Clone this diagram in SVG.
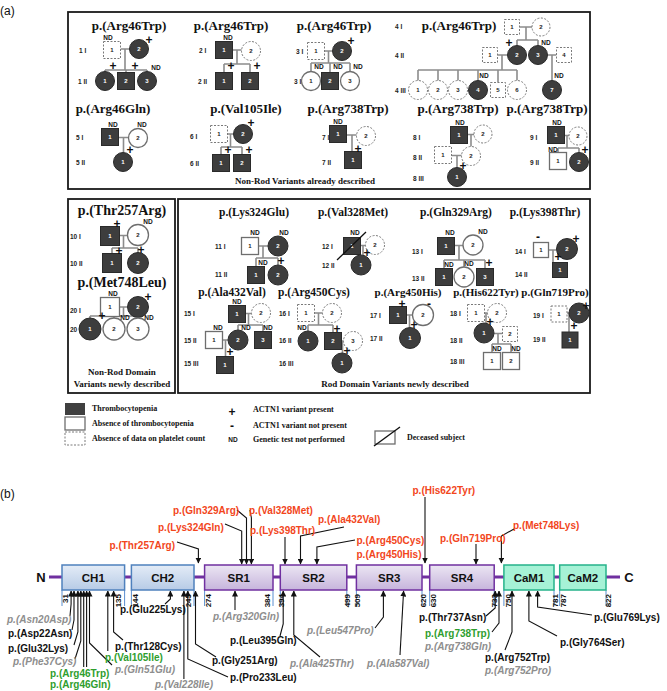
<svg xmlns="http://www.w3.org/2000/svg" width="667" height="691" viewBox="0 0 667 691">
<style>
.bx{fill:none;stroke:#1a1a1a;stroke-width:1.8}
.f{fill:#3d3d3d;stroke:#2a2a2a;stroke-width:1}
.e{fill:#fff;stroke:#6e6e6e;stroke-width:1.3}
.d{fill:#fff;stroke:#7a7a7a;stroke-width:1;stroke-dasharray:2 1.5}
.pl{fill:none;stroke:#8c8c8c;stroke-width:1.6}
.nw{font-family:'Liberation Sans',Arial,sans-serif;font-size:6px;font-weight:bold;fill:#fff;text-anchor:middle}
.nb{font-family:'Liberation Sans',Arial,sans-serif;font-size:6px;font-weight:bold;fill:#222;text-anchor:middle}
.gl{font-family:'Liberation Sans',Arial,sans-serif;font-size:6.5px;font-weight:bold;fill:#222}
.nd{font-family:'Liberation Sans',Arial,sans-serif;font-size:6.5px;font-weight:bold;fill:#111;text-anchor:middle}
.pm{font-family:'Liberation Sans',Arial,sans-serif;font-size:12px;font-weight:bold;fill:#111;text-anchor:middle}
.t1{font-family:'Liberation Serif','Times New Roman',serif;font-size:13px;font-weight:bold;fill:#111;text-anchor:middle}
.t2{font-family:'Liberation Serif','Times New Roman',serif;font-size:11.5px;font-weight:bold;fill:#111;text-anchor:middle}
.cap{font-family:'Liberation Serif','Times New Roman',serif;font-size:9px;font-weight:bold;fill:#111;text-anchor:middle}
.lg{font-family:'Liberation Serif','Times New Roman',serif;font-size:8px;font-weight:bold;fill:#111}
.pn{font-family:'Liberation Sans',Arial,sans-serif;font-size:12px;fill:#111}
.bl{font-family:'Liberation Sans',Arial,sans-serif;font-size:11.5px;font-weight:bold;fill:#111;text-anchor:middle}
.lb{font-family:'Liberation Sans',Arial,sans-serif;font-size:10px;font-weight:bold}
.r{fill:#f2461c}.k{fill:#111}.g{fill:#2e9e2e}.y{fill:#8e8e8e;font-style:italic}
.num{font-family:'Liberation Sans',Arial,sans-serif;font-size:8px;font-weight:bold;fill:#111;text-anchor:end}
.ar{fill:none;stroke:#111;stroke-width:1.1;marker-end:url(#ah)}
.tk{stroke:#5b8fd0;stroke-width:1}
.ch{fill:url(#gch);stroke:#4f81bd;stroke-width:1.5}
.sr{fill:url(#gsr);stroke:#7030a0;stroke-width:1.5}
.cm{fill:#a6f2d6;stroke:#26b38a;stroke-width:1.5}
</style>
<defs>
<marker id="ah" markerWidth="6" markerHeight="6" refX="5.5" refY="3" orient="auto" markerUnits="userSpaceOnUse"><path d="M0,0 L6,3 L0,6 z" fill="#111"/></marker>
<linearGradient id="gch" x1="0" y1="0" x2="0" y2="1"><stop offset="0" stop-color="#e4ecf7"/><stop offset="1" stop-color="#b7cbe6"/></linearGradient>
<linearGradient id="gsr" x1="0" y1="0" x2="0" y2="1"><stop offset="0" stop-color="#ece6f3"/><stop offset="1" stop-color="#c6b4dc"/></linearGradient>
</defs>
<rect width="667" height="691" fill="#fff"/>

<text class="pn" x="0" y="15">(a)</text>
<g id="frames">
<rect class="bx" x="68" y="12" width="522" height="177"/>
<rect class="bx" x="68" y="199" width="107" height="194"/>
<rect class="bx" x="178" y="199" width="412" height="194"/>
<text class="cap" x="305" y="184">Non-Rod Variants already described</text>
<text class="cap" x="122" y="375">Non-Rod Domain</text>
<text class="cap" x="122" y="387">Variants newly described</text>
<text class="cap" x="395" y="387">Rod Domain Variants newly described</text>
</g>

<g id="pedigree-lines">
<path class="pl" d="M120.5 49H129.5M125 49V70M105 70H147M105 70V71.5M126 70V72.5M147 70V71.5"/>
<path class="pl" d="M232.5 50H241.5M237 50V64M224 64H250M224 64V72.5M250 64V72.5"/>
<path class="pl" d="M324.5 51H332.5M328.5 51V63M311 63H350M311 63V71.5M330 63V72.5M350 63V71.5"/>
<path class="pl" d="M519.5 27H532M526 27V40M517 40H538M517 40V45.5M538 40V45.5M497.5 55H507.5M502 55V70M418 70H517M418 70V80.5M438 70V80.5M458 70V80.5M478 70V80.5M498 70V82.5M517 70V80.5M547.5 55H556.5M552 55V80.5"/>
<path class="pl" d="M118.5 137.5H128.5M123.5 137.5V152.5"/>
<path class="pl" d="M227.5 134H233.5M230.5 134V147M221 147H242M221 147V154.5M242 147V154.5"/>
<path class="pl" d="M346.5 135H356.5M352 135V151.5"/>
<path class="pl" d="M467.5 134.5H474M471 134.5V146.5M451.5 155.5H461.5M457 155.5V167.5"/>
<path class="pl" d="M564.5 135.5H570M567 135.5V148M558 148H579M558 148V152.5M579 148V152.5"/>
<path class="pl" d="M119.5 235.5H127.5M123.5 235.5V248M112 248H138M112 248V253.5M138 248V252.5"/>
<path class="pl" d="M119.5 307H127.5M123.5 307V316M90 316H138M90 316V318M114 316V318M138 316V318"/>
<path class="pl" d="M258.5 246H268M263 246V258M256 258H278M256 258V266.5M278 258V265"/>
<path class="pl" d="M360.5 245.5H365.5M363 245.5V255"/>
<path class="pl" d="M454.5 245.5H463M459 245.5V260M444 260H485M444 260V268.5M464 260V267M485 260V268.5"/>
<path class="pl" d="M548.5 250H556.5M553 250V262.5"/>
<path class="pl" d="M245.5 313.5H251.5M248.5 313.5V325M238 325H263M238 325V330M263 325V331.5M222.5 340H228M225.5 340V356.5"/>
<path class="pl" d="M314.5 313H322.5M318.5 313V325M308 325H333M308 325V331M333 325V332.5M341.5 341H343.5M342.5 341V353"/>
<path class="pl" d="M406.5 315H412.5M409.5 315V327.5"/>
<path class="pl" d="M484.5 313H487.5M486 313V323M494 333.5H502.5M498 333.5V344M492 344H511M492 344V352.5M511 344V352.5"/>
<path class="pl" d="M567 313H570M569 313V332"/>
</g>

<g id="ped1">
<text class="t1" x="129" y="30">p.(Arg46Trp)</text>
<text class="gl" x="79" y="53">1 I</text><text class="gl" x="78" y="84">1 II</text>
<rect class="d" x="103.5" y="41.5" width="17" height="17"/><text class="nb" x="112" y="52">1</text><text class="nd" x="108" y="40">ND</text>
<circle class="f" cx="139" cy="49" r="9.5"/><text class="nw" x="139" y="51">2</text><text class="pm" x="149" y="44">+</text>
<circle class="f" cx="105" cy="81" r="9.5"/><text class="nw" x="105" y="83">1</text><text class="pm" x="113" y="70">+</text>
<rect class="f" x="117.5" y="72.5" width="17" height="17"/><text class="nw" x="126" y="83">2</text><text class="pm" x="135" y="70">+</text>
<circle class="f" cx="147" cy="81" r="9.5"/><text class="nw" x="147" y="83">3</text><text class="nd" x="156" y="70">ND</text>
</g>
<g id="ped2">
<text class="t1" x="231" y="30">p.(Arg46Trp)</text>
<text class="gl" x="199" y="53">2 I</text><text class="gl" x="198" y="84">2 II</text>
<rect class="f" x="215.5" y="41.5" width="17" height="17"/><text class="nw" x="224" y="52">1</text><text class="nd" x="228" y="40">ND</text>
<circle class="d" cx="251" cy="51" r="9.5"/><text class="nb" x="251" y="53">2</text>
<rect class="f" x="215.5" y="72.5" width="17" height="17"/><text class="nw" x="224" y="83">1</text><text class="pm" x="231" y="70">+</text>
<rect class="f" x="241.5" y="72.5" width="17" height="17"/><text class="nw" x="250" y="83">2</text><text class="pm" x="257" y="70">+</text>
</g>
<g id="ped3">
<text class="t1" x="334" y="30">p.(Arg46Trp)</text>
<text class="gl" x="296" y="54">3 I</text><text class="gl" x="294" y="84">3 II</text>
<rect class="d" x="307.5" y="42.5" width="17" height="17"/><text class="nb" x="316" y="53">1</text>
<circle class="f" cx="342" cy="51" r="9.5"/><text class="nw" x="342" y="53">2</text><text class="pm" x="351" y="45">+</text>
<circle class="e" cx="311" cy="81" r="9.5"/><text class="nb" x="311" y="83">1</text><text class="nd" x="319" y="69">ND</text>
<rect class="f" x="321.5" y="72.5" width="17" height="17"/><text class="nw" x="330" y="83">2</text><text class="nd" x="338" y="69">ND</text>
<circle class="e" cx="350" cy="81" r="9.5"/><text class="nb" x="350" y="83">3</text><text class="nd" x="358" y="69">ND</text>
</g>
<g id="ped4">
<text class="t1" x="459" y="30">p.(Arg46Trp)</text>
<text class="gl" x="395" y="29">4 I</text><text class="gl" x="395" y="58">4 II</text><text class="gl" x="395" y="93">4 III</text>
<rect class="d" x="504.5" y="19.5" width="15" height="15"/><text class="nb" x="512" y="29">1</text>
<circle class="d" cx="541" cy="27" r="9"/><text class="nb" x="541" y="29">2</text>
<rect class="d" x="482.5" y="47.5" width="15" height="15"/><text class="nb" x="490" y="57">1</text>
<circle class="f" cx="517" cy="55" r="9.5"/><text class="nw" x="517" y="57">2</text><text class="pm" x="509" y="47">+</text>
<circle class="f" cx="538" cy="55" r="9.5"/><text class="nw" x="538" y="57">3</text><text class="nd" x="546" y="45">ND</text>
<rect class="d" x="556.5" y="47.5" width="15" height="15"/><text class="nb" x="564" y="57">4</text>
<circle class="d" cx="418" cy="90" r="9.5"/><text class="nb" x="418" y="92">1</text>
<circle class="d" cx="438" cy="90" r="9.5"/><text class="nb" x="438" y="92">2</text>
<circle class="d" cx="458" cy="90" r="9.5"/><text class="nb" x="458" y="92">3</text>
<circle class="f" cx="478" cy="90" r="9.5"/><text class="nw" x="478" y="92">4</text><text class="nd" x="484" y="78">ND</text>
<rect class="d" x="490.5" y="82.5" width="15" height="15"/><text class="nb" x="498" y="92">5</text>
<circle class="d" cx="517" cy="90" r="9.5"/><text class="nb" x="517" y="92">6</text>
<circle class="f" cx="552" cy="90" r="9.5"/><text class="nw" x="552" y="92">7</text><text class="nd" x="559" y="78">ND</text>
</g>
<g id="ped5">
<text class="t1" x="113" y="113">p.(Arg46Gln)</text>
<text class="gl" x="76" y="140">5 I</text><text class="gl" x="76" y="165">5 II</text>
<rect class="f" x="101.5" y="128.5" width="17" height="17"/><text class="nw" x="110" y="139">1</text><text class="nd" x="113" y="127">ND</text>
<circle class="e" cx="138" cy="138" r="9.5"/><text class="nb" x="138" y="140">2</text><text class="nd" x="142" y="127">ND</text>
<circle class="f" cx="123" cy="162" r="9.5"/><text class="nw" x="123" y="164">1</text><text class="pm" x="130" y="154">+</text>
</g>
<g id="ped6">
<text class="t1" x="246" y="113">p.(Val105Ile)</text>
<text class="gl" x="190" y="139">6 I</text><text class="gl" x="190" y="166">6 II</text>
<rect class="d" x="210.5" y="125.5" width="17" height="17"/><text class="nb" x="219" y="136">1</text>
<circle class="f" cx="243" cy="134" r="9.5"/><text class="nw" x="243" y="136">2</text><text class="pm" x="251" y="127">+</text>
<rect class="f" x="212.5" y="154.5" width="17" height="17"/><text class="nw" x="221" y="165">1</text><text class="pm" x="228" y="154">+</text>
<rect class="f" x="233.5" y="154.5" width="17" height="17"/><text class="nw" x="242" y="165">2</text><text class="pm" x="249" y="154">+</text>
</g>
<g id="ped7">
<text class="t1" x="348" y="113">p.(Arg738Trp)</text>
<text class="gl" x="322" y="140">7 I</text><text class="gl" x="322" y="165">7 II</text>
<rect class="f" x="329.5" y="125.5" width="17" height="17"/><text class="nw" x="338" y="136">1</text><text class="nd" x="338" y="124">ND</text>
<circle class="d" cx="366" cy="136" r="9.5"/><text class="nb" x="366" y="138">2</text>
<rect class="f" x="344.5" y="151.5" width="17" height="17"/><text class="nw" x="353" y="162">1</text><text class="pm" x="358" y="153">+</text>
</g>
<g id="ped8">
<text class="t1" x="458" y="113">p.(Arg738Trp)</text>
<text class="gl" x="413" y="140">8 I</text><text class="gl" x="413" y="160">8 II</text><text class="gl" x="413" y="181">8 III</text>
<rect class="f" x="450.5" y="126.5" width="17" height="17"/><text class="nw" x="459" y="137">1</text><text class="nd" x="460" y="125">ND</text>
<circle class="d" cx="483" cy="134" r="9"/><text class="nb" x="483" y="136">2</text>
<rect class="d" x="434.5" y="146.5" width="17" height="17"/><text class="nb" x="443" y="157">1</text>
<circle class="d" cx="471" cy="156" r="9.5"/><text class="nb" x="471" y="158">2</text>
<circle class="f" cx="457" cy="177" r="9.5"/><text class="nw" x="457" y="179">1</text><text class="pm" x="463" y="170">+</text>
</g>
<g id="ped9">
<text class="t1" x="547" y="113">p.(Arg738Trp)</text>
<text class="gl" x="530" y="140">9 I</text><text class="gl" x="530" y="165">9 II</text>
<rect class="f" x="547.5" y="126.5" width="17" height="17"/><text class="nw" x="556" y="137">1</text><text class="nd" x="557" y="125">ND</text>
<circle class="d" cx="578" cy="136" r="9"/><text class="nb" x="578" y="138">2</text>
<rect class="e" x="549.5" y="152.5" width="17" height="17"/><text class="nb" x="558" y="163">1</text><text class="nd" x="553" y="152">ND</text>
<circle class="f" cx="579" cy="162" r="9.5"/><text class="nw" x="579" y="164">2</text><text class="pm" x="585" y="154">+</text>
</g>

<g id="ped10">
<text class="t1" x="122" y="215" style="font-size:14px">p.(Thr257Arg)</text>
<text class="gl" x="70" y="239">10 I</text><text class="gl" x="70" y="266">10 II</text>
<rect class="f" x="100.5" y="226.5" width="19" height="19"/><text class="nw" x="110" y="238">1</text><text class="pm" x="117" y="228">+</text>
<circle class="e" cx="138" cy="235" r="10.5"/><text class="nb" x="138" y="237">2</text><text class="nd" x="148" y="224">ND</text>
<rect class="f" x="102.5" y="253.5" width="19" height="19"/><text class="nw" x="112" y="265">1</text><text class="pm" x="119" y="255">+</text>
<circle class="f" cx="138" cy="263" r="10.5"/><text class="nw" x="138" y="265">2</text><text class="pm" x="141" y="254">+</text>
</g>
<g id="ped20">
<text class="t1" x="122" y="287" style="font-size:14px">p.(Met748Leu)</text>
<text class="gl" x="70" y="313">20 I</text><text class="gl" x="70" y="332">20 II</text>
<rect class="e" x="100.5" y="297.5" width="19" height="19"/><text class="nb" x="110" y="309">1</text><text class="nd" x="113" y="296">ND</text>
<circle class="f" cx="138" cy="307" r="10.5"/><text class="nw" x="138" y="309">2</text><text class="pm" x="148" y="301">+</text>
<circle class="f" cx="90" cy="329" r="11"/><text class="nw" x="90" y="331">1</text><text class="pm" x="102" y="320">+</text>
<circle class="e" cx="114" cy="329" r="11"/><text class="nb" x="114" y="331">2</text><text class="nd" x="125" y="320">ND</text>
<circle class="e" cx="138" cy="329" r="11"/><text class="nb" x="138" y="331">3</text><text class="nd" x="149" y="320">ND</text>
</g>

<g id="ped11">
<text class="t2" x="254" y="216">p.(Lys324Glu)</text>
<text class="gl" x="215" y="249">11 I</text><text class="gl" x="215" y="277">11 II</text>
<rect class="e" x="241.5" y="237.5" width="17" height="17"/><text class="nb" x="250" y="248">1</text><text class="nd" x="255" y="235">ND</text>
<circle class="f" cx="278" cy="246" r="10"/><text class="nw" x="278" y="248">2</text><text class="nd" x="284" y="235">ND</text>
<rect class="f" x="247.5" y="266.5" width="17" height="17"/><text class="nw" x="256" y="277">1</text><text class="nd" x="263" y="265">ND</text>
<circle class="f" cx="278" cy="275" r="10"/><text class="nw" x="278" y="277">2</text><text class="pm" x="281" y="265">+</text>
</g>
<g id="ped12">
<text class="t2" x="353" y="216">p.(Val328Met)</text>
<text class="gl" x="322" y="249">12 I</text><text class="gl" x="322" y="268">12 II</text>
<rect class="f" x="343.5" y="237.5" width="17" height="17"/><text class="nw" x="352" y="248">1</text><text class="nd" x="355" y="235">ND</text>
<path d="M337 260L366 232" stroke="#111" stroke-width="1.3"/>
<circle class="d" cx="375" cy="245" r="9.5"/><text class="nb" x="375" y="247">2</text>
<circle class="f" cx="361" cy="265" r="10"/><text class="nw" x="361" y="267">1</text><text class="pm" x="367" y="257">+</text>
</g>
<g id="ped13">
<text class="t2" x="456" y="216">p.(Gln329Arg)</text>
<text class="gl" x="412" y="254">13 I</text><text class="gl" x="412" y="281">13 II</text>
<rect class="f" x="437.5" y="237.5" width="17" height="17"/><text class="nw" x="446" y="248">1</text><text class="nd" x="450" y="235">ND</text>
<circle class="e" cx="473" cy="245" r="10"/><text class="nb" x="473" y="247">2</text><text class="nd" x="483" y="234">ND</text>
<rect class="f" x="435.5" y="268.5" width="17" height="17"/><text class="nw" x="444" y="279">1</text><text class="nd" x="449" y="267">ND</text>
<circle class="e" cx="464" cy="277" r="10"/><text class="nb" x="464" y="279">2</text><text class="nd" x="469" y="266">ND</text>
<rect class="f" x="476.5" y="268.5" width="17" height="17"/><text class="nw" x="485" y="279">3</text><text class="pm" x="489" y="267">+</text>
</g>
<g id="ped14">
<text class="t2" x="545" y="216">p.(Lys398Thr)</text>
<text class="gl" x="515" y="254">14 I</text><text class="gl" x="515" y="277">14 II</text>
<rect class="e" x="533.5" y="242.5" width="15" height="15"/><text class="nb" x="541" y="252">1</text><text class="pm" x="538" y="241">-</text>
<circle class="f" cx="567" cy="249" r="10.5"/><text class="nw" x="567" y="251">2</text><text class="pm" x="576" y="243">+</text>
<rect class="f" x="552.5" y="262.5" width="15" height="15"/><text class="nw" x="560" y="272">1</text><text class="pm" x="558" y="261">+</text>
</g>
<g id="ped15">
<text class="t2" x="232" y="296">p.(Ala432Val)</text>
<text class="gl" x="184" y="316">15 I</text><text class="gl" x="184" y="343">15 II</text><text class="gl" x="184" y="366">15 III</text>
<rect class="f" x="228.5" y="305.5" width="17" height="17"/><text class="nw" x="237" y="316">1</text><text class="nd" x="237" y="304">ND</text>
<circle class="d" cx="261" cy="313" r="9.5"/><text class="nb" x="261" y="315">2</text>
<rect class="e" x="205.5" y="331.5" width="17" height="17"/><text class="nb" x="214" y="342">1</text><text class="nd" x="218" y="330">ND</text>
<circle class="f" cx="238" cy="340" r="10"/><text class="nw" x="238" y="342">2</text><text class="nd" x="246" y="330">ND</text>
<rect class="f" x="254.5" y="331.5" width="17" height="17"/><text class="nw" x="263" y="342">3</text><text class="nd" x="268" y="330">ND</text>
<rect class="f" x="216.5" y="356.5" width="17" height="17"/><text class="nw" x="225" y="367">1</text><text class="pm" x="230" y="356">+</text>
</g>
<g id="ped16">
<text class="t2" x="314" y="296">p.(Arg450Cys)</text>
<text class="gl" x="279" y="316">16 I</text><text class="gl" x="279" y="343">16 II</text><text class="gl" x="279" y="366">16 III</text>
<rect class="d" x="297.5" y="304.5" width="17" height="17"/><text class="nb" x="306" y="315">1</text>
<circle class="d" cx="332" cy="313" r="9.5"/><text class="nb" x="332" y="315">2</text>
<circle class="f" cx="308" cy="341" r="10"/><text class="nw" x="308" y="343">1</text><text class="nd" x="302" y="330">ND</text>
<rect class="f" x="324.5" y="332.5" width="17" height="17"/><text class="nw" x="333" y="343">2</text><text class="pm" x="337" y="333">+</text>
<circle class="d" cx="353" cy="341" r="9.5"/><text class="nb" x="353" y="343">3</text>
<circle class="f" cx="342" cy="363" r="10"/><text class="nw" x="342" y="365">1</text><text class="pm" x="347" y="355">+</text>
</g>
<g id="ped17">
<text class="t2" x="408" y="296" style="font-size:11px">p.(Arg450His)</text>
<text class="gl" x="370" y="318">17 I</text><text class="gl" x="370" y="341">17 II</text>
<rect class="f" x="389.5" y="306.5" width="17" height="17"/><text class="nw" x="398" y="317">1</text><text class="pm" x="402" y="308">+</text>
<circle class="e" cx="423" cy="315" r="10.5"/><text class="nb" x="423" y="317">2</text><text class="pm" x="429" y="308">-</text>
<circle class="f" cx="410" cy="338" r="10.5"/><text class="nw" x="410" y="340">1</text><text class="pm" x="414" y="329">+</text>
</g>
<g id="ped18">
<text class="t2" x="486" y="296" style="font-size:11px">p.(His622Tyr)</text>
<text class="gl" x="450" y="316">18 I</text><text class="gl" x="450" y="343">18 II</text><text class="gl" x="450" y="364">18 III</text>
<rect class="d" x="467.5" y="304.5" width="17" height="17"/><text class="nb" x="476" y="315">1</text>
<circle class="d" cx="497" cy="313" r="9.5"/><text class="nb" x="497" y="315">2</text>
<circle class="f" cx="484" cy="333" r="10"/><text class="nw" x="484" y="335">1</text><text class="pm" x="490" y="326">+</text>
<rect class="d" x="502.5" y="326.5" width="15" height="15"/><text class="nb" x="510" y="336">2</text>
<rect class="e" x="483.5" y="352.5" width="17" height="17"/><text class="nb" x="492" y="363">1</text><text class="nd" x="497" y="351">ND</text>
<rect class="e" x="502.5" y="352.5" width="17" height="17"/><text class="nb" x="511" y="363">2</text><text class="nd" x="516" y="351">ND</text>
</g>
<g id="ped19">
<text class="t2" x="555" y="296" style="font-size:11px">p.(Gln719Pro)</text>
<text class="gl" x="533" y="318">19 I</text><text class="gl" x="533" y="342">19 II</text>
<rect class="d" x="551" y="306" width="16" height="16"/><text class="nb" x="559" y="316">1</text>
<circle class="f" cx="579" cy="313" r="10"/><text class="nw" x="579" y="315">2</text><text class="pm" x="586" y="310">+</text>
<rect class="f" x="562" y="332" width="16" height="16"/><text class="nw" x="570" y="342">1</text><text class="pm" x="574" y="330">+</text>
</g>

<g id="legend">
<rect x="65" y="403" width="20" height="12" fill="#404040"/>
<rect class="e" x="65" y="417" width="20" height="13"/>
<rect class="d" x="65" y="432" width="20" height="13"/>
<text class="lg" x="92" y="411">Thrombocytopenia</text>
<text class="lg" x="92" y="426">Absence of thrombocytopenia</text>
<text class="lg" x="92" y="441">Absence of data on platelet count</text>
<text class="pm" x="232" y="416">+</text>
<text class="pm" x="232" y="430">-</text>
<text class="nd" x="233" y="442">ND</text>
<text class="lg" x="253" y="412">ACTN1 variant present</text>
<text class="lg" x="253" y="428">ACTN1 variant not present</text>
<text class="lg" x="253" y="442">Genetic test not performed</text>
<rect class="e" x="375" y="431" width="20" height="13"/>
<path d="M374 446L400 427" stroke="#111" stroke-width="1.4"/>
<text class="lg" x="407" y="440">Deceased subject</text>
</g>

<text class="pn" x="0" y="498">(b)</text>
<g id="axis">
<path d="M49 577H620" stroke="#7030a0" stroke-width="3"/>
<text class="bl" x="41" y="582" style="font-size:13px">N</text>
<text class="bl" x="629" y="582" style="font-size:13px">C</text>
</g>
<g id="ticks">
<path class="tk" d="M62 590V606M124.6 590V606M131.4 590V606M194 590V606M204.6 590V606M273 590V606M280.3 590V606M346.8 590V606M356.4 590V606M422 590V606M429.7 590V606M494.2 590V606M503.9 590V606M554 590V606M559.7 590V606M606 590V606"/>
<text class="num" transform="translate(68.3,594) rotate(-90)">31</text>
<text class="num" transform="translate(121.3,594) rotate(-90)">135</text>
<text class="num" transform="translate(137.6,594) rotate(-90)">144</text>
<text class="num" transform="translate(190.6,594) rotate(-90)">245</text>
<text class="num" transform="translate(210.9,594) rotate(-90)">274</text>
<text class="num" transform="translate(269.7,594) rotate(-90)">384</text>
<text class="num" transform="translate(284.1,594) rotate(-90)">394</text>
<text class="num" transform="translate(349.7,594) rotate(-90)">499</text>
<text class="num" transform="translate(360.3,594) rotate(-90)">509</text>
<text class="num" transform="translate(425.8,594) rotate(-90)">620</text>
<text class="num" transform="translate(436.4,594) rotate(-90)">630</text>
<text class="num" transform="translate(497.1,594) rotate(-90)">733</text>
<text class="num" transform="translate(510.6,594) rotate(-90)">750</text>
<text class="num" transform="translate(557.8,594) rotate(-90)">781</text>
<text class="num" transform="translate(565.5,594) rotate(-90)">787</text>
<text class="num" transform="translate(610.8,594) rotate(-90)">822</text>
</g>
<g id="CH1"><rect class="ch" x="62" y="565" width="62.6" height="25"/><text class="bl" x="93.3" y="582">CH1</text></g>
<g id="CH2"><rect class="ch" x="131.4" y="565" width="62.6" height="25"/><text class="bl" x="162.7" y="582">CH2</text></g>
<g id="SR1"><rect class="sr" x="204.6" y="565" width="68.4" height="25"/><text class="bl" x="238.8" y="582">SR1</text></g>
<g id="SR2"><rect class="sr" x="280.3" y="565" width="66.5" height="25"/><text class="bl" x="313.5" y="582">SR2</text></g>
<g id="SR3"><rect class="sr" x="356.4" y="565" width="65.6" height="25"/><text class="bl" x="389.2" y="582">SR3</text></g>
<g id="SR4"><rect class="sr" x="429.7" y="565" width="64.5" height="25"/><text class="bl" x="462" y="582">SR4</text></g>
<g id="CaM1"><rect class="cm" x="503.9" y="565" width="50.1" height="25"/><text class="bl" x="529" y="582">CaM1</text></g>
<g id="CaM2"><rect class="cm" x="559.7" y="565" width="46.3" height="25"/><text class="bl" x="582.9" y="582">CaM2</text></g>

<g id="arrows">
<path class="ar" d="M177 542L198.4 549V563"/>
<path class="ar" d="M225 524L241.7 531V564"/>
<path class="ar" d="M237 510L246.5 518V564"/>
<path class="ar" d="M250 510L251.4 518V564"/>
<path class="ar" d="M285 537V564"/>
<path class="ar" d="M344 527L300.5 536V564"/>
<path class="ar" d="M355 540L316.9 547V564"/>
<path class="ar" d="M425 497V563"/>
<path class="ar" d="M476 544V564"/>
<path class="ar" d="M514 529L501.4 536V563"/>
<path class="ar" d="M70 616L71.1 604V591"/>
<path class="ar" d="M72 630L74 620V591"/>
<path class="ar" d="M74 645L77.9 632V591"/>
<path class="ar" d="M75 659L80.8 641V591"/>
<path class="ar" d="M83.7 667V591"/>
<path class="ar" d="M86.6 667V591"/>
<path class="ar" d="M112 665L89.5 643V591"/>
<path class="ar" d="M107.8 651V591"/>
<path class="ar" d="M123 640L113.6 632V591"/>
<path class="ar" d="M165 604L170.4 599V591"/>
<path class="ar" d="M183.9 679V591"/>
<path class="ar" d="M228 677L187.8 659V591"/>
<path class="ar" d="M216 657L195.5 644V591"/>
<path class="ar" d="M235 610V591"/>
<path class="ar" d="M280 636L283.2 624V591"/>
<path class="ar" d="M320 657L293.8 635V591"/>
<path class="ar" d="M375 628L383.4 617V591"/>
<path class="ar" d="M400 655L403.6 591"/>
<path class="ar" d="M486 616L495.2 608V591"/>
<path class="ar" d="M492 632L499 623V591"/>
<path class="ar" d="M505 650L512 632V591"/>
<path class="ar" d="M557 636L528.9 621V591"/>
<path class="ar" d="M592 615L537.6 607V591"/>
</g>

<g id="variant-labels">
<text class="lb r" x="109.5" y="548.5">p.(Thr257Arg)</text>
<text class="lb r" x="158" y="530.5">p.(Lys324Gln)</text>
<text class="lb r" x="173" y="513.5">p.(Gln329Arg)</text>
<text class="lb r" x="249" y="513.5">p.(Val328Met)</text>
<text class="lb r" x="250" y="534">p.(Lys398Thr)</text>
<text class="lb r" x="318" y="523">p.(Ala432Val)</text>
<text class="lb r" x="356.5" y="543.5">p.(Arg450Cys)</text>
<text class="lb r" x="356.5" y="557.5">p.(Arg450His)</text>
<text class="lb r" x="412.5" y="493.5">p.(His622Tyr)</text>
<text class="lb r" x="440" y="541.5">p.(Gln719Pro)</text>
<text class="lb r" x="513" y="528.5">p.(Met748Lys)</text>
<text class="lb y" x="7" y="622.5">p.(Asn20Asp)</text>
<text class="lb k" x="8" y="636.5">p.(Asp22Asn)</text>
<text class="lb k" x="8" y="651.5">p.(Glu32Lys)</text>
<text class="lb y" x="13" y="665">p.(Phe37Cys)</text>
<text class="lb g" x="50" y="677">p.(Arg46Trp)</text>
<text class="lb g" x="50" y="688">p.(Arg46Gln)</text>
<text class="lb y" x="115" y="672.5">p.(Gln51Glu)</text>
<text class="lb g" x="105" y="660.5">p.(Val105Ile)</text>
<text class="lb k" x="115" y="649.5">p.(Thr128Cys)</text>
<text class="lb k" x="120" y="612.5">p.(Glu225Lys)</text>
<text class="lb y" x="155" y="688">p.(Val228Ile)</text>
<text class="lb k" x="230" y="680.5">p.(Pro233Leu)</text>
<text class="lb k" x="212" y="663.5">p.(Gly251Arg)</text>
<text class="lb y" x="213" y="619.5">p.(Arg320Gln)</text>
<text class="lb k" x="230" y="643.5">p.(Leu395Gln)</text>
<text class="lb y" x="290" y="666.5">p.(Ala425Thr)</text>
<text class="lb y" x="307" y="633.5">p.(Leu547Pro)</text>
<text class="lb y" x="367" y="666.5">p.(Ala587Val)</text>
<text class="lb k" x="419" y="620.5">p.(Thr737Asn)</text>
<text class="lb g" x="425" y="636.5">p.(Arg738Trp)</text>
<text class="lb y" x="425" y="649.5">p.(Arg738Gln)</text>
<text class="lb k" x="485" y="660.5">p.(Arg752Trp)</text>
<text class="lb y" x="485" y="673.5">p.(Arg752Pro)</text>
<text class="lb k" x="560" y="645.5">p.(Gly764Ser)</text>
<text class="lb k" x="594" y="620.5">p.(Glu769Lys)</text>
</g>
</svg>
